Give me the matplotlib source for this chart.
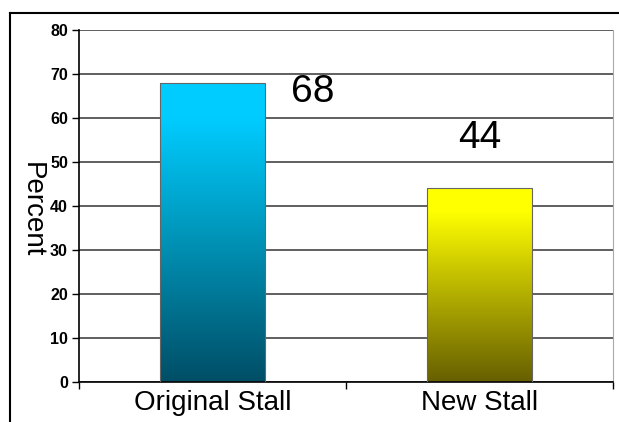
import numpy as np
import matplotlib.pyplot as plt
from matplotlib.lines import Line2D
from matplotlib.colors import LinearSegmentedColormap

plt.rcParams['font.family'] = ['Liberation Sans', 'DejaVu Sans']

categories = ["Original Stall", "New Stall"]
values = [68, 44]
top_colors = ["#00ccff", "#ffff00"]
mid_colors = ["#009ec4", "#c4c000"]
bottom_colors = ["#004e66", "#665f00"]

fig = plt.figure(figsize=(6.19, 4.22), dpi=100)
ax = fig.add_axes([79/619, 40/422, 534/619, 352/422])

x = np.arange(len(categories))
bars = ax.bar(x, values, width=0.39, color="none", edgecolor="#666666", linewidth=0.8, zorder=3)

grad = np.linspace(0, 1, 256).reshape(-1, 1)
for b, ct, cm, cb in zip(bars, top_colors, mid_colors, bottom_colors):
    cmap = LinearSegmentedColormap.from_list("g", [(0, cb), (0.55, cm), (0.88, ct), (1, ct)])
    x0, y0 = b.get_x(), b.get_y()
    im = ax.imshow(grad, cmap=cmap, origin="lower", aspect="auto",
                   extent=[x0, x0 + b.get_width(), y0, y0 + b.get_height()], zorder=2)
    im.set_clip_path(b)

# value labels (placed as in the original slide)
ax.text(0.375, 66, str(values[0]), fontsize=28, ha="center", va="center", zorder=4)
ax.text(1.0, 55.5, str(values[1]), fontsize=28, ha="center", va="center", zorder=4)

ax.set_xlim(-0.5, 1.5)
ax.set_ylim(0, 80)
ax.set_yticks(range(0, 81, 10))
ax.yaxis.grid(True, color="#444444", linewidth=1.2, zorder=0)
ax.set_axisbelow(True)
for t in ax.get_yticklabels():
    t.set_fontweight("bold")
ax.tick_params(axis="y", labelsize=11.5, length=5, width=1, direction="out", pad=3)

ax.set_xticks(x)
ax.set_xticklabels(categories, fontsize=20)
ax.set_xticks([-0.5, 0.5, 1.5], minor=True)
ax.tick_params(axis="x", which="major", length=0, pad=6)
ax.tick_params(axis="x", which="minor", length=5, width=1, direction="out")

ax.spines["left"].set_color("black")
ax.spines["bottom"].set_color("black")
ax.spines["left"].set_linewidth(1.2)
ax.spines["bottom"].set_linewidth(1.2)
ax.spines["top"].set_visible(False)
ax.spines["right"].set_color("#aaaaaa")

ax.set_ylabel("Percent", fontsize=20, rotation=-90, va="center", ha="center")
ax.yaxis.set_label_coords(-0.088, 0.49)

# outer frame
fig.add_artist(Line2D([10/619, 1], [1 - 13/422, 1 - 13/422], color="black", linewidth=1.5))
fig.add_artist(Line2D([10/619, 10/619], [0, 1 - 13/422], color="black", linewidth=1.5))

fig.savefig("out.png", dpi=100)
